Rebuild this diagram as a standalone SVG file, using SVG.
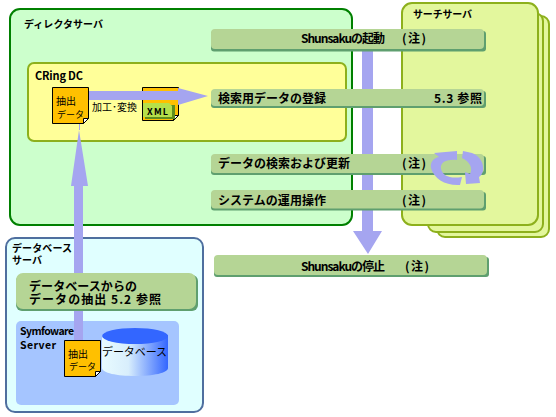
<svg xmlns="http://www.w3.org/2000/svg" width="556" height="417" viewBox="0 0 556 417">
<style>
text{font-family:"Noto Sans CJK JP","Liberation Sans",sans-serif;fill:#000}
.b{font-weight:700}
.bar{fill:#b5d595}
.sh{fill:#5f9f6f}
.arr{fill:#a5a5f0}
.srv{fill:#e3f79d;stroke:#8db01c;stroke-width:2}
.doc{fill:#ffc000;stroke:#000;stroke-width:1}
.fold{fill:#fff;stroke:#000;stroke-width:1}
</style>
<defs>
<linearGradient id="cyl" x1="0" x2="1" y1="0" y2="0"><stop offset="0" stop-color="#e8fbff"/><stop offset="0.4" stop-color="#d8eefc"/><stop offset="1" stop-color="#3366ff"/></linearGradient>
</defs>
<rect width="556" height="417" fill="#fff"/>
<g id="search-servers">
<rect class="srv" x="437" y="16" width="112" height="221" rx="8"/>
<rect class="srv" x="428" y="13" width="115" height="219" rx="8"/>
<rect class="srv" x="402" y="3" width="136" height="222" rx="10"/>
<text class="b" x="413" y="18" font-size="10" textLength="59">サーチサーバ</text>
</g>
<g id="directory-server">
<rect x="10" y="9" width="342" height="216" rx="10" fill="#ccffcc" stroke="#008000" stroke-width="2"/>
<text class="b" x="24" y="28" font-size="10" textLength="79">ディレクタサーバ</text>
</g>
<g id="cring-dc">
<rect x="28" y="63" width="318" height="78" rx="6" fill="#ffff99" stroke="#8db01c" stroke-width="2"/>
<text class="b" x="35" y="80" font-size="11" textLength="48">CRing DC</text>
</g>
<g id="database-server">
<rect x="6" y="238" width="197" height="174" rx="9" fill="#e0ffff" stroke="#4f6f9f" stroke-width="2"/>
<text class="b" x="12" y="252" font-size="10" textLength="60">データベース</text>
<text class="b" x="12" y="264" font-size="10" textLength="30">サーバ</text>
</g>
<g id="symfoware-panel">
<rect x="16" y="321" width="163" height="84" rx="5" fill="#a5c5ff"/>
</g>
<g id="connectors">
<polygon class="arr" points="74,340 74,186 71,186 79,130 88,186 83,186 83,340"/>
<line x1="79.500" y1="123" x2="79.500" y2="130" stroke="#a5a5f0"/>
<polygon class="arr" points="362,50 373,50 373,231 382,231 368,254 353,231 362,231"/>
</g>
<g id="symfoware-label">
<text class="b" x="20" y="335" font-size="10.500" textLength="54">Symfoware</text>
<text class="b" x="20" y="349" font-size="10.500" textLength="36">Server</text>
</g>
<g id="doc-xml">
<path class="doc" d="M142.500 87.500H178.500V115.500L173.500 120.500H142.500Z"/>
<path class="fold" d="M173.500 120.500V115.500H178.500Z"/>
<rect x="145" y="105" width="30" height="14" fill="#5f8f1f"/>
<path d="M143 103H169L172 106V117H143Z" fill="#b5e04a"/>
<text class="b" x="147" y="115" font-size="9" textLength="21">XML</text>
</g>
<g id="connector-h">
<polygon class="arr" points="89,91 178,91 178,88 208,96 178,105 178,100 89,100"/>
</g>
<g id="doc-extract-top">
<path class="doc" d="M52.500 87.500H88.500V118.500L83.500 123.500H52.500Z"/>
<path class="fold" d="M83.500 123.500V118.500H88.500Z"/>
<text x="56" y="105" font-size="10" textLength="20">抽出</text>
<text x="57" y="118" font-size="9" textLength="27">データ</text>
</g>
<text x="92" y="111" font-size="10" textLength="45">加工･変換</text>
<g id="bar-start">
<rect class="sh" x="211" y="31" width="275" height="20.500" rx="3"/>
<rect class="bar" x="211" y="29" width="273" height="20" rx="4"/>
<text class="b" x="301" y="43" font-size="12" textLength="84">Shunsakuの起動</text>
<text class="b" x="402" y="43" font-size="12" textLength="24">(注)</text>
</g>
<g id="bar-register">
<rect class="sh" x="211" y="91" width="275" height="17" rx="3"/>
<rect class="bar" x="211" y="89" width="273" height="17" rx="4"/>
<text class="b" x="218" y="103" font-size="12" textLength="108">検索用データの登録</text>
<text class="b" x="434" y="103" font-size="12" textLength="48">5.3 参照</text>
</g>
<g id="bar-search">
<rect class="sh" x="211" y="156" width="275" height="19" rx="3"/>
<rect class="bar" x="211" y="154" width="273" height="19" rx="4"/>
<text class="b" x="218" y="168" font-size="12" textLength="132">データの検索および更新</text>
<text class="b" x="402" y="168" font-size="12" textLength="24">(注)</text>
</g>
<g id="bar-ops">
<rect class="sh" x="211" y="192" width="275" height="18.500" rx="3"/>
<rect class="bar" x="211" y="190" width="273" height="18.500" rx="4"/>
<text class="b" x="218" y="205" font-size="12" textLength="108">システムの運用操作</text>
<text class="b" x="402" y="205" font-size="12" textLength="24">(注)</text>
</g>
<g id="bar-stop">
<rect class="sh" x="214" y="257" width="275" height="20" rx="3"/>
<rect class="bar" x="214" y="255" width="273" height="20" rx="4"/>
<text class="b" x="301" y="271" font-size="12" textLength="84">Shunsakuの停止</text>
<text class="b" x="405" y="271" font-size="12" textLength="24">(注)</text>
</g>
<g id="cycle">
<path class="arr" d="M434 153L457 151V160C445 159 440 163 441 169C443 176 450 179 462 177L460 185C446 186 434 179 431 168C430 163 433 158 439 157Z"/>
<path class="arr" d="M463 151L472 153C480 156 484 163 483 171C482 174 481 176 479 177L480 183L466 184L465 172L470 174C473 168 470 162 462 158Z"/>
</g>
<g id="bar-extract">
<rect class="sh" x="16" y="275" width="182" height="36" rx="6"/>
<rect class="bar" x="16" y="273" width="180" height="36" rx="7"/>
<text class="b" x="29" y="291" font-size="12" textLength="108">データベースからの</text>
<text class="b" x="29" y="304" font-size="12" textLength="132">データの抽出 5.2 参照</text>
</g>
<g id="database">
<path d="M102 335V368C102 373 117 376 135 376C153 376 168 373 168 368V335Z" fill="url(#cyl)"/>
<ellipse cx="135" cy="336" rx="33" ry="8" fill="#3366ff"/>
<text x="102" y="356" font-size="11" textLength="65">データベース</text>
</g>
<g id="doc-extract-bottom">
<path class="doc" d="M64.500 340.500H100.500V371.500L95.500 376.500H64.500Z"/>
<path class="fold" d="M95.500 376.500V371.500H100.500Z"/>
<text x="68" y="358" font-size="10" textLength="20">抽出</text>
<text x="69" y="370" font-size="9" textLength="27">データ</text>
</g>
</svg>
